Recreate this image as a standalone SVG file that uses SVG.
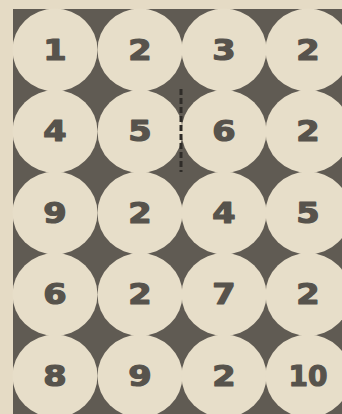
<svg xmlns="http://www.w3.org/2000/svg" width="342" height="414" viewBox="0 0 342 414">
<style>
.c{fill:#e7dec9}
.t{font-family:"DejaVu Sans","Liberation Sans",sans-serif;font-weight:bold;font-size:28px;fill:#57534c;stroke:#57534c;stroke-width:1.2px;stroke-linejoin:round;text-anchor:middle;dominant-baseline:central}
</style>
<rect x="0" y="0" width="342" height="414" fill="#e5dbc5"/>
<rect x="13" y="9" width="329" height="405" fill="#605b53"/>
<g id="nodes">
<g id="n1"><ellipse class="c" cx="55" cy="50" rx="42.5" ry="41.5"/><text class="t" transform="translate(55,50) scale(1.2,1)">1</text></g>
<g id="n2"><ellipse class="c" cx="140" cy="50" rx="42.5" ry="41.5"/><text class="t" transform="translate(140,50) scale(1.2,1)">2</text></g>
<g id="n3"><ellipse class="c" cx="224" cy="50" rx="42.5" ry="41.5"/><text class="t" transform="translate(224,50) scale(1.2,1)">3</text></g>
<g id="n4"><ellipse class="c" cx="308" cy="50" rx="42.5" ry="41.5"/><text class="t" transform="translate(308,50) scale(1.2,1)">2</text></g>
<g id="n5"><ellipse class="c" cx="55" cy="131.5" rx="42.5" ry="41.5"/><text class="t" transform="translate(55,131.5) scale(1.2,1)">4</text></g>
<g id="n6"><ellipse class="c" cx="140" cy="131.5" rx="42.5" ry="41.5"/><text class="t" transform="translate(140,131.5) scale(1.2,1)">5</text></g>
<g id="n7"><ellipse class="c" cx="224" cy="131.5" rx="42.5" ry="41.5"/><text class="t" transform="translate(224,131.5) scale(1.2,1)">6</text></g>
<g id="n8"><ellipse class="c" cx="308" cy="131.5" rx="42.5" ry="41.5"/><text class="t" transform="translate(308,131.5) scale(1.2,1)">2</text></g>
<g id="n9"><ellipse class="c" cx="55" cy="213" rx="42.5" ry="41.5"/><text class="t" transform="translate(55,213) scale(1.2,1)">9</text></g>
<g id="n10"><ellipse class="c" cx="140" cy="213" rx="42.5" ry="41.5"/><text class="t" transform="translate(140,213) scale(1.2,1)">2</text></g>
<g id="n11"><ellipse class="c" cx="224" cy="213" rx="42.5" ry="41.5"/><text class="t" transform="translate(224,213) scale(1.2,1)">4</text></g>
<g id="n12"><ellipse class="c" cx="308" cy="213" rx="42.5" ry="41.5"/><text class="t" transform="translate(308,213) scale(1.2,1)">5</text></g>
<g id="n13"><ellipse class="c" cx="55" cy="294.5" rx="42.5" ry="41.5"/><text class="t" transform="translate(55,294.5) scale(1.2,1)">6</text></g>
<g id="n14"><ellipse class="c" cx="140" cy="294.5" rx="42.5" ry="41.5"/><text class="t" transform="translate(140,294.5) scale(1.2,1)">2</text></g>
<g id="n15"><ellipse class="c" cx="224" cy="294.5" rx="42.5" ry="41.5"/><text class="t" transform="translate(224,294.5) scale(1.2,1)">7</text></g>
<g id="n16"><ellipse class="c" cx="308" cy="294.5" rx="42.5" ry="41.5"/><text class="t" transform="translate(308,294.5) scale(1.2,1)">2</text></g>
<g id="n17"><ellipse class="c" cx="55" cy="376" rx="42.5" ry="41.5"/><text class="t" transform="translate(55,376) scale(1.2,1)">8</text></g>
<g id="n18"><ellipse class="c" cx="140" cy="376" rx="42.5" ry="41.5"/><text class="t" transform="translate(140,376) scale(1.2,1)">9</text></g>
<g id="n19"><ellipse class="c" cx="224" cy="376" rx="42.5" ry="41.5"/><text class="t" transform="translate(224,376) scale(1.2,1)">2</text></g>
<g id="n20"><ellipse class="c" cx="308" cy="376" rx="42.5" ry="41.5"/><text class="t" transform="translate(308,376) scale(1.0,1)">10</text></g>
</g>
<g id="connectors">
<line x1="181" y1="89" x2="181" y2="172" stroke="#2f2c28" stroke-width="3" stroke-dasharray="6 3"/>
</g>
</svg>
